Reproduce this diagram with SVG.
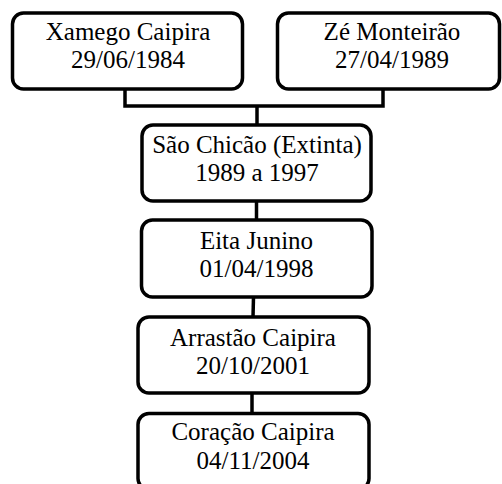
<svg xmlns="http://www.w3.org/2000/svg" width="502" height="484" viewBox="0 0 502 484">
<style>
.box{fill:#fff;stroke:#000;stroke-width:3.5}
.lbl{font-family:"Liberation Serif","Times New Roman",serif;font-size:25px;fill:#000;text-anchor:middle}
.con{fill:none;stroke:#000;stroke-width:3.5;stroke-linejoin:miter}
</style>
<rect width="502" height="484" fill="#fff"/>
<g id="connectors">
<polyline class="con" points="125,89 125,106 383,106 383,89"/>
<line class="con" x1="257" y1="106" x2="257" y2="125"/>
<line class="con" x1="256.5" y1="201" x2="256.5" y2="220"/>
<line class="con" x1="253.5" y1="297" x2="253" y2="317"/>
<line class="con" x1="252" y1="393" x2="252" y2="413"/>
</g>
<g id="xamego">
<rect class="box" x="12.5" y="13" width="230" height="76" rx="11"/>
<text class="lbl" x="128" y="39.5">Xamego Caipira</text>
<text class="lbl" x="128" y="68">29/06/1984</text>
</g>
<g id="ze">
<rect class="box" x="277.5" y="13" width="222" height="76" rx="11"/>
<text class="lbl" x="392" y="39.5">Zé Monteirão</text>
<text class="lbl" x="392" y="68">27/04/1989</text>
</g>
<g id="saochicao">
<rect class="box" x="142" y="125" width="229" height="76" rx="11"/>
<text class="lbl" x="257" y="152.5">São Chicão (Extinta)</text>
<text class="lbl" x="257" y="180.5">1989 a 1997</text>
</g>
<g id="eita">
<rect class="box" x="141.5" y="220" width="230.5" height="77" rx="11"/>
<text class="lbl" x="256.5" y="248.5">Eita Junino</text>
<text class="lbl" x="256.5" y="277">01/04/1998</text>
</g>
<g id="arrastao">
<rect class="box" x="138" y="317" width="231" height="76" rx="11"/>
<text class="lbl" x="253" y="346">Arrastão Caipira</text>
<text class="lbl" x="253" y="374">20/10/2001</text>
</g>
<g id="coracao">
<rect class="box" x="138" y="413.5" width="231" height="76" rx="11"/>
<text class="lbl" x="253" y="440">Coração Caipira</text>
<text class="lbl" x="253" y="468.5">04/11/2004</text>
</g>
</svg>
